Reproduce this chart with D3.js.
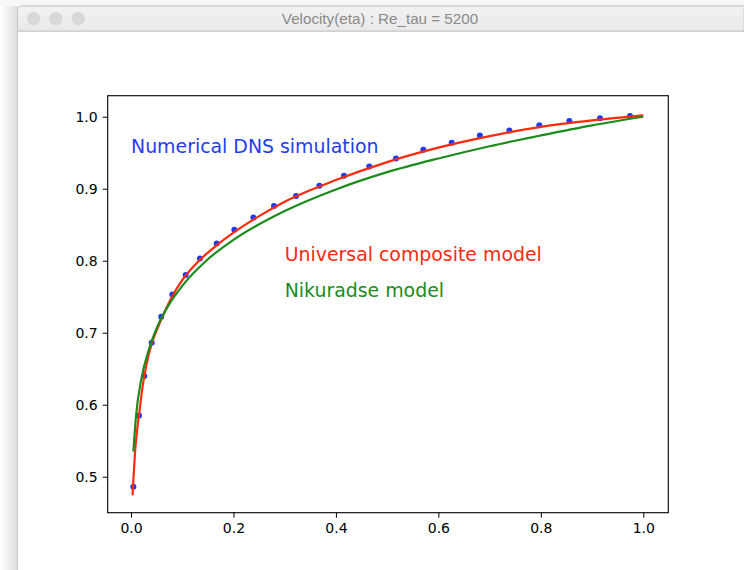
<!DOCTYPE html>
<html>
<head>
<meta charset="utf-8">
<script src="https://cdn.jsdelivr.net/npm/d3@7"></script>
<style>
  html, body { margin: 0; padding: 0; background: #ffffff; }
  svg { display: block; }
</style>
</head>
<body>
<div id="chart"></div>
<script>
// values
const windowTitle = "Velocity(eta) : Re_tau = 5200";

const dnsX = [0.0046, 0.0156, 0.026, 0.0404, 0.059, 0.0807, 0.1067, 0.1347, 0.1672, 0.2017,
  0.2388, 0.2791, 0.3221, 0.3676, 0.4158, 0.4652, 0.5173, 0.5706, 0.626, 0.681,
  0.7385, 0.797, 0.8556, 0.9155, 0.974];
const dnsY = [0.486, 0.585, 0.640, 0.686, 0.722, 0.753, 0.780, 0.803, 0.824, 0.843,
  0.860, 0.876, 0.890, 0.904, 0.918, 0.931, 0.942, 0.954, 0.964, 0.974,
  0.981, 0.988, 0.994, 0.998, 1.001];

const compositeX = [0.003, 0.005, 0.008, 0.012, 0.016, 0.022, 0.03, 0.04, 0.05, 0.06, 0.08, 0.1,
  0.13, 0.17, 0.2, 0.25, 0.3, 0.4, 0.5, 0.6, 0.7, 0.8, 0.9, 1.0];
const compositeY = [0.474, 0.500, 0.535, 0.565, 0.588, 0.622, 0.655, 0.684, 0.703, 0.720, 0.750, 0.773,
  0.798, 0.823, 0.839, 0.862, 0.882, 0.912, 0.937, 0.957, 0.973, 0.986, 0.995, 1.002];

const nikuradseX = [0.0046, 0.01, 0.02, 0.035, 0.05, 0.075, 0.1, 0.15, 0.2, 0.3, 0.4, 0.5,
  0.6, 0.7, 0.8, 0.9, 1.0];
const nikuradseY = [0.535, 0.586, 0.635, 0.677, 0.706, 0.740, 0.765, 0.802, 0.829, 0.869, 0.899, 0.923,
  0.942, 0.959, 0.974, 0.988, 1.0];

const xTicks = [0.0, 0.2, 0.4, 0.6, 0.8, 1.0];
const yTicks = [0.5, 0.6, 0.7, 0.8, 0.9, 1.0];

const labels = [
  { text: "Numerical DNS simulation", x: 0.0, y: 0.95, color: "#1f3cf5" },
  { text: "Universal composite model", x: 0.3, y: 0.80, color: "#fb2a10" },
  { text: "Nikuradse model", x: 0.3, y: 0.75, color: "#1b8c1b" },
];

const W = 744, H = 570;
const svg = d3.select("#chart").append("svg").attr("width", W).attr("height", H);

// window chrome
const defs = svg.append("defs");
const shadow = defs.append("linearGradient").attr("id", "shadowL").attr("x1", 0).attr("x2", 1);
shadow.append("stop").attr("offset", 0).attr("stop-color", "#ffffff");
shadow.append("stop").attr("offset", 1).attr("stop-color", "#dcdcdc");
const tb = defs.append("linearGradient").attr("id", "titlebar").attr("x1", 0).attr("x2", 0).attr("y1", 0).attr("y2", 1);
tb.append("stop").attr("offset", 0).attr("stop-color", "#f2f2f2");
tb.append("stop").attr("offset", 1).attr("stop-color", "#e9e9e9");

svg.append("rect").attr("x", 0).attr("y", 0).attr("width", W).attr("height", H).attr("fill", "#ffffff");
svg.append("rect").attr("x", 0).attr("y", 0).attr("width", 18).attr("height", H).attr("fill", "url(#shadowL)");
svg.append("rect").attr("x", 0).attr("y", 0).attr("width", W).attr("height", 6).attr("fill", "#f7f7f7");
svg.append("rect").attr("x", 17.5).attr("y", 6).attr("width", W).attr("height", H)
  .attr("fill", "#ffffff").attr("stroke", "#c9c9c9").attr("rx", 5);
svg.append("path").attr("d", `M17.5,31 L17.5,11 Q17.5,6 22.5,6 L${W},6 L${W},31 Z`)
  .attr("fill", "url(#titlebar)").attr("stroke", "#c9c9c9");
svg.append("line").attr("x1", 18).attr("x2", W).attr("y1", 31.5).attr("y2", 31.5).attr("stroke", "#d2d2d2");
svg.selectAll("circle.light").data([33.5, 55.8, 78.2]).join("circle").attr("class", "light")
  .attr("cx", (d) => d).attr("cy", 18.5).attr("r", 6.3).attr("fill", "#d8d8d8").attr("stroke", "#cfcfcf").attr("stroke-width", 0.5);
svg.append("text").attr("x", 380).attr("y", 23.5).attr("text-anchor", "middle")
  .style("font-family", "'Liberation Sans', Arial, sans-serif").style("font-size", "15.2px")
  .attr("fill", "#8a8a8a").text(windowTitle);

// plot area
const plot = { left: 107.7, right: 668.3, top: 95.7, bottom: 512.7 };
const x = d3.scaleLinear().domain([-0.0455, 1.0488]).range([plot.left, plot.right]);
const y = d3.scaleLinear().domain([0.45, 1.0292]).range([plot.bottom, plot.top]);

const fontTick = "'DejaVu Sans', sans-serif";

const xAxis = svg.append("g").attr("transform", `translate(0,${plot.bottom})`)
  .call(d3.axisBottom(x).tickValues(xTicks).tickFormat(d3.format(".1f")).tickSizeOuter(0).tickSize(5).tickPadding(5));
const yAxis = svg.append("g").attr("transform", `translate(${plot.left},0)`)
  .call(d3.axisLeft(y).tickValues(yTicks).tickFormat(d3.format(".1f")).tickSizeOuter(0).tickSize(5).tickPadding(5));
[xAxis, yAxis].forEach((g) => {
  g.select(".domain").remove();
  g.selectAll("line").attr("stroke", "#000").attr("stroke-width", 1);
  g.selectAll("text").style("font-family", fontTick).style("font-size", "14px").attr("fill", "#000");
});

const clip = defs.append("clipPath").attr("id", "plotclip");
clip.append("rect").attr("x", plot.left).attr("y", plot.top)
  .attr("width", plot.right - plot.left).attr("height", plot.bottom - plot.top);

const body = svg.append("g").attr("clip-path", "url(#plotclip)");

const dns = dnsX.map((d, i) => [d, dnsY[i]]);
const composite = compositeX.map((d, i) => [d, compositeY[i]]);
const nikuradse = nikuradseX.map((d, i) => [d, nikuradseY[i]]);

const line = d3.line().x((d) => x(d[0])).y((d) => y(d[1])).curve(d3.curveMonotoneX);

body.append("g").selectAll("circle").data(dns).join("circle")
  .attr("cx", (d) => x(d[0])).attr("cy", (d) => y(d[1])).attr("r", 3)
  .attr("fill", "#1a3cf8");

body.append("path").datum(composite).attr("d", line)
  .attr("fill", "none").attr("stroke", "#ff2a0c").attr("stroke-width", 2.2);

body.append("path").datum(nikuradse).attr("d", line)
  .attr("fill", "none").attr("stroke", "#1b8c1b").attr("stroke-width", 2.2);

svg.append("rect").attr("x", plot.left).attr("y", plot.top)
  .attr("width", plot.right - plot.left).attr("height", plot.bottom - plot.top)
  .attr("fill", "none").attr("stroke", "#000").attr("stroke-width", 1.1);

svg.append("g").selectAll("text").data(labels).join("text")
  .attr("x", (d) => x(d.x)).attr("y", (d) => y(d.y))
  .style("font-family", fontTick).style("font-size", "18.9px")
  .attr("fill", (d) => d.color).text((d) => d.text);
</script>
</body>
</html>
